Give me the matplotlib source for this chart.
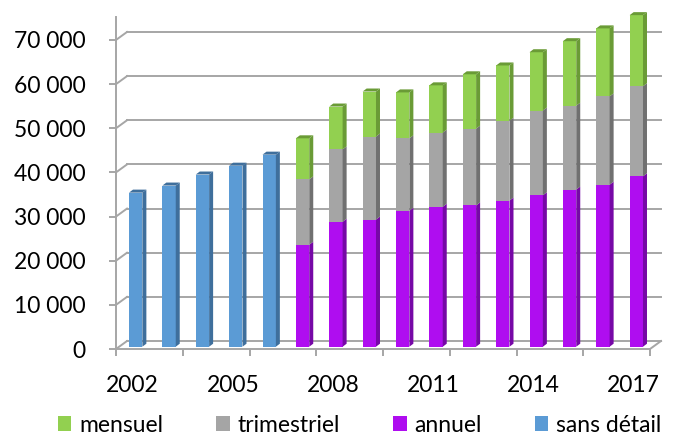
import matplotlib.pyplot as plt
from matplotlib.patches import Patch, Polygon
from matplotlib.transforms import ScaledTranslation

# données
annees_sans_detail = [2002, 2003, 2004, 2005, 2006]
sans_detail = [34900, 36500, 39000, 41000, 43500]

annees_detail = [2007, 2008, 2009, 2010, 2011, 2012, 2013, 2014, 2015, 2016, 2017]
annuel = [23100, 28300, 28800, 30800, 31700, 32000, 33100, 34300, 35600, 36700, 38600]
trimestriel = [14800, 16400, 18800, 16400, 16800, 17400, 18100, 19200, 19000, 20000, 20400]
mensuel = [9300, 9700, 10200, 10400, 10700, 12300, 12500, 13200, 14600, 15400, 16100]

annees_labels = [2002, 2005, 2008, 2011, 2014, 2017]
yticks = [0, 10000, 20000, 30000, 40000, 50000, 60000, 70000]

couleurs = {
    "mensuel": ("#92D050", "#6A9B36"),
    "trimestriel": ("#A5A5A5", "#707070"),
    "annuel": ("#AF0DF0", "#7608A6"),
    "sans détail": ("#5B9BD5", "#3F6F9C"),
}

plt.rcParams['font.family'] = ['Lato', 'DejaVu Sans']
fig = plt.figure(figsize=(6.76, 4.36), dpi=100)
ax = fig.add_axes([116 / 676, 87 / 436, 534 / 676, 332 / 436])
ax.set_xlim(2001.5, 2017.5)
ax.set_ylim(0, 75200)

gris = "#A6A6A6"
# mur du fond (effet 3D)
mur_dx, mur_dy = 0.33, 1810
for v in yticks:
    ax.plot([2001.5, 2001.5 + mur_dx], [v, v + mur_dy], color=gris, lw=1.4, clip_on=False, zorder=1)
    ax.plot([2001.5 + mur_dx, 2017.5 + mur_dx], [v + mur_dy, v + mur_dy], color=gris, lw=1.4,
            clip_on=False, zorder=1)
ax.plot([2017.5, 2017.5 + mur_dx], [0, mur_dy], color=gris, lw=1.4, clip_on=False, zorder=1)

# barres 3D
tr = ax.transData + ScaledTranslation(0.03, 0.023, fig.dpi_scale_trans)
w, dx, dy = 0.40, 0.12, 680


def barre(x, bas, haut, serie, dessus):
    c, c2 = couleurs[serie]
    ax.bar(x, haut, bottom=bas, width=w, color=c, lw=0, transform=tr, zorder=3, clip_on=False)
    xr = x + w / 2
    ax.add_patch(Polygon([[xr, bas], [xr + dx, bas + dy], [xr + dx, bas + haut + dy], [xr, bas + haut]],
                         closed=True, color=c2, lw=0, transform=tr, zorder=3, clip_on=False))
    if dessus:
        xl = x - w / 2
        t = bas + haut
        ax.add_patch(Polygon([[xl, t], [xl + dx, t + dy], [xr + dx, t + dy], [xr, t]],
                             closed=True, color=c2, lw=0, transform=tr, zorder=3, clip_on=False))


for x, v in zip(annees_sans_detail, sans_detail):
    barre(x, 0, v, "sans détail", True)

for x, a, t, m in zip(annees_detail, annuel, trimestriel, mensuel):
    barre(x, 0, a, "annuel", False)
    barre(x, a, t, "trimestriel", False)
    barre(x, a + t, m, "mensuel", True)

# axes
for s in ["top", "right"]:
    ax.spines[s].set_visible(False)
for s in ["left", "bottom"]:
    ax.spines[s].set_color(gris)
    ax.spines[s].set_linewidth(1.4)
ax.spines["left"].set_zorder(0)

ax.set_yticks(yticks)
ax.set_yticklabels([f"{v:,}".replace(",", " ") for v in yticks])
ax.tick_params(axis="y", length=5, width=1.4, color=gris, pad=17, labelsize=16.5)

ax.set_xticks(annees_labels)
ax.set_xticklabels([str(a) for a in annees_labels])
ax.set_xticks([2001.5 + 2 * i for i in range(9)], minor=True)
ax.tick_params(axis="x", which="major", length=0, pad=19, labelsize=16.5)
ax.tick_params(axis="x", which="minor", length=5, width=1.4, color=gris)

handles = [Patch(facecolor=couleurs[k][0]) for k in couleurs]
fig.legend(handles, list(couleurs.keys()), loc="center", bbox_to_anchor=(0.532, 0.025), ncol=4,
           frameon=False, fontsize=16.5, handlelength=0.6, handleheight=0.6, handletextpad=0.35,
           columnspacing=2.3, borderpad=0, borderaxespad=0)

fig.savefig("out.png", dpi=100)
